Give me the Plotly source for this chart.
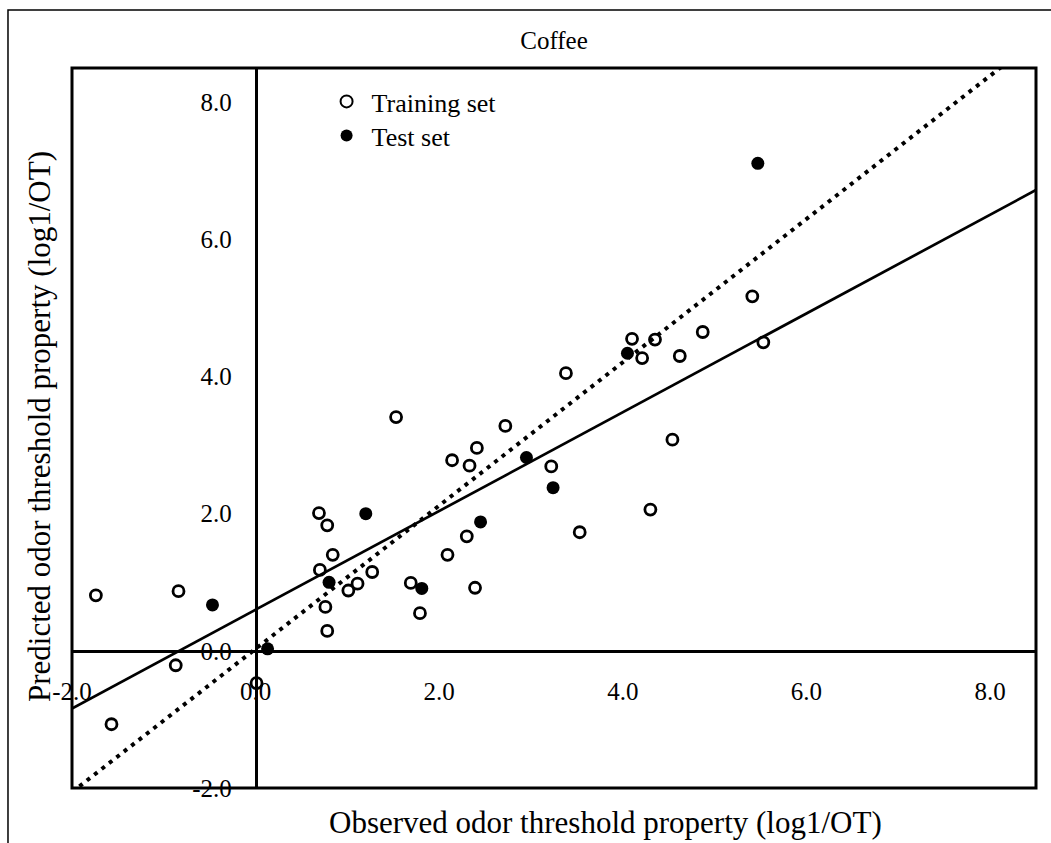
import plotly.graph_objects as go

# ---- data ----
train_x = [-1.74, -0.84, -0.87, -1.57, 0.01, 0.69, 0.78, 0.84, 0.70, 1.27, 1.11, 1.01,
           1.69, 0.76, 1.79, 0.78, 2.39, 2.09, 2.30, 1.53, 2.14, 2.33, 2.41, 2.72,
           3.38, 3.22, 3.53, 4.30, 4.54, 4.10, 4.35, 4.21, 4.62, 4.87, 5.41, 5.53]
train_y = [0.81, 0.87, -0.21, -1.07, -0.47, 2.01, 1.83, 1.40, 1.18, 1.15, 0.98, 0.88,
           0.99, 0.64, 0.55, 0.29, 0.92, 1.40, 1.67, 3.41, 2.78, 2.70, 2.96, 3.28,
           4.05, 2.69, 1.73, 2.06, 3.08, 4.55, 4.54, 4.27, 4.30, 4.65, 5.17, 4.50]

test_x = [-0.47, 0.13, 0.80, 1.20, 1.81, 2.45, 2.95, 3.24, 4.05, 5.47]
test_y = [0.67, 0.03, 1.00, 2.00, 0.91, 1.88, 2.82, 2.38, 4.34, 7.11]

fit_x = [-2.0, 8.5]
fit_y = [-0.84, 6.72]          # solid regression line
ideal_x = [-2.0, 8.5]
ideal_y = [-2.06, 8.91]        # dotted line

x_range = [-2.0, 8.5]
y_range = [-2.0, 8.5]
tick_vals = [-2.0, 0.0, 2.0, 4.0, 6.0, 8.0]
tick_text = ["-2.0", "0.0", "2.0", "4.0", "6.0", "8.0"]

FONT = "Liberation Serif, Times New Roman, serif"

fig = go.Figure()

fig.add_trace(go.Scatter(x=fit_x, y=fit_y, mode="lines", showlegend=False,
                         line=dict(color="black", width=2.7), hoverinfo="skip"))
fig.add_trace(go.Scatter(x=ideal_x, y=ideal_y, mode="lines", showlegend=False,
                         line=dict(color="black", width=4, dash="4px,5.4px"),
                         hoverinfo="skip"))
fig.add_trace(go.Scatter(x=train_x, y=train_y, mode="markers", name="Training set",
                         legend="legend",
                         marker=dict(symbol="circle-open", size=11, color="black",
                                     line=dict(width=2.8, color="black"))))
fig.add_trace(go.Scatter(x=test_x, y=test_y, mode="markers", name="Test set",
                         legend="legend2",
                         marker=dict(symbol="circle", size=13, color="black",
                                     line=dict(width=0))))

x_pos = (0 - y_range[0]) / (y_range[1] - y_range[0])
y_pos = (0 - x_range[0]) / (x_range[1] - x_range[0])

leg_common = dict(xanchor="left", yanchor="top", bgcolor="rgba(0,0,0,0)",
                  font=dict(family=FONT, size=26, color="black"),
                  itemsizing="constant", itemwidth=40)

fig.update_layout(
    width=1051, height=843,
    margin=dict(l=72, r=15, t=68, b=55),
    paper_bgcolor="white", plot_bgcolor="white",
    font=dict(family=FONT, size=25, color="black"),
    title=dict(text="Coffee", x=0.5, xref="paper", xanchor="center",
               y=1 - 40 / 843, yref="container", yanchor="middle",
               font=dict(family=FONT, size=25, color="black")),
    xaxis=dict(range=x_range, anchor="free", position=x_pos, showline=True,
               linecolor="black", linewidth=2.5, showgrid=False, zeroline=False,
               tickvals=tick_vals, ticktext=tick_text, ticks="",
               ticklabelstandoff=17, tickfont=dict(family=FONT, size=25)),
    yaxis=dict(range=y_range, anchor="free", position=y_pos, showline=True,
               linecolor="black", linewidth=2.5, showgrid=False, zeroline=False,
               tickvals=tick_vals, ticktext=tick_text, ticks="",
               ticklabelstandoff=18, tickfont=dict(family=FONT, size=25)),
    legend=dict(x=0.2589, y=0.9861, **leg_common),
    legend2=dict(x=0.2589, y=0.9389, **leg_common),
    shapes=[
        dict(type="rect", xref="paper", yref="paper", x0=0, x1=1, y0=0, y1=1,
             line=dict(color="black", width=3), layer="above"),
        dict(type="rect", xref="paper", yref="paper", x0=-0.0664, x1=1.2,
             y0=-0.3, y1=1.0806, line=dict(color="black", width=1.5)),
    ],
    annotations=[
        dict(text="Observed odor threshold property (log1/OT)", xref="paper",
             yref="paper", x=0.553, y=-0.0486, xanchor="center", yanchor="middle",
             showarrow=False, font=dict(family=FONT, size=31, color="black")),
        dict(text="Predicted odor threshold property (log1/OT)", xref="paper",
             yref="paper", x=-0.0332, y=0.5028, xanchor="center", yanchor="middle",
             textangle=-90, showarrow=False,
             font=dict(family=FONT, size=31, color="black")),
    ],
)

fig.write_html("out.html")
